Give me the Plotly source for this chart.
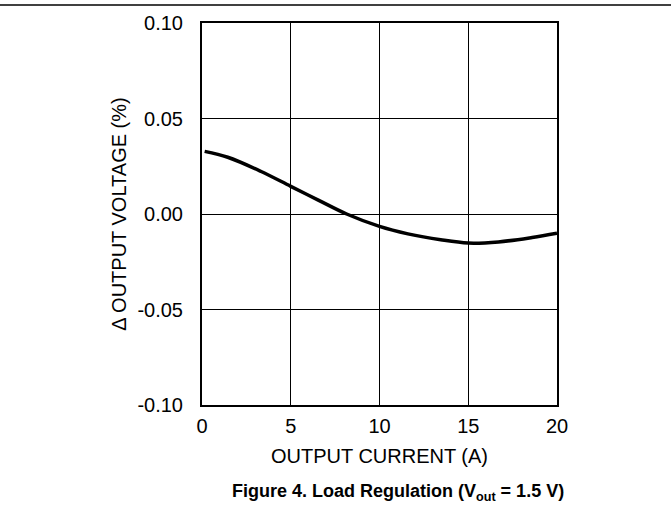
import plotly.graph_objects as go

# Data
current_a = [0.15, 1.45, 3.3, 5.0, 6.55, 8.15, 10.0, 11.6, 13.45, 15.0, 16.7, 18.6, 20.0]
delta_vout_pct = [0.0328, 0.0297, 0.0224, 0.0145, 0.0073, 0.0, -0.0065, -0.0104, -0.0135, -0.0152, -0.0146, -0.0123, -0.0101]

x_ticks = [0, 5, 10, 15, 20]
y_ticks = [-0.10, -0.05, 0.00, 0.05, 0.10]
y_tick_text = ["-0.10", "-0.05", "0.00", "0.05", "0.10"]

FONT = "Liberation Sans, Arial, sans-serif"

fig = go.Figure()
fig.add_trace(go.Scatter(
    x=current_a, y=delta_vout_pct, mode="lines",
    line=dict(color="black", width=3.5, shape="spline", smoothing=1.0),
    showlegend=False, hoverinfo="skip",
))

fig.update_layout(
    width=671, height=512,
    margin=dict(l=202, r=114, t=21, b=107),
    paper_bgcolor="white", plot_bgcolor="white",
    font=dict(family=FONT, size=20, color="black"),
    xaxis=dict(
        range=[0, 20], tickvals=x_ticks, showgrid=True, gridcolor="black", gridwidth=1,
        showline=True, linecolor="black", linewidth=2, mirror=True, zeroline=False,
        ticks="outside", ticklen=2, tickcolor="rgba(0,0,0,0)",
        title=dict(text="OUTPUT CURRENT (A)", standoff=13, font=dict(size=20)),
        tickfont=dict(size=20),
    ),
    yaxis=dict(
        range=[-0.10, 0.10], tickvals=y_ticks, ticktext=y_tick_text, showgrid=True,
        gridcolor="black", gridwidth=1,
        showline=True, linecolor="black", linewidth=2, mirror=True, zeroline=False,
        ticks="outside", ticklen=13, tickcolor="rgba(0,0,0,0)",
        title=dict(text="Δ OUTPUT VOLTAGE (%)", standoff=5, font=dict(size=20)),
        tickfont=dict(size=20),
    ),
    shapes=[dict(type="line", xref="paper", yref="paper",
                 x0=-202/355, x1=(671-202)/355, y0=(405-3)/384, y1=(405-3)/384,
                 line=dict(color="black", width=1.5))],
    annotations=[dict(
        text="<b>Figure 4. Load Regulation (V<sub>out</sub> = 1.5 V)</b>",
        xref="paper", yref="paper", x=(398-202)/355, y=-(493-405)/384,
        xanchor="center", yanchor="middle", showarrow=False,
        font=dict(family=FONT, size=18, color="black"),
    )],
)

fig.write_html("out.html", config={"displayModeBar": False},
               post_script="document.body.style.margin='0';")
